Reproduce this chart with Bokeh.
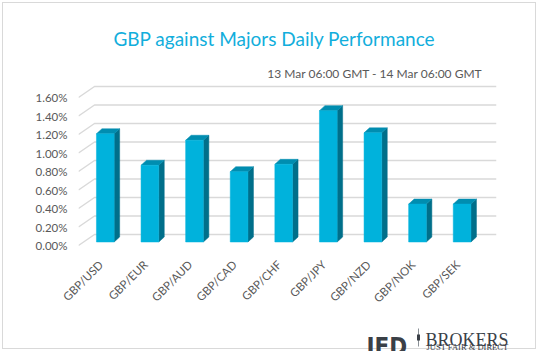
import math
from bokeh.plotting import figure
from bokeh.layouts import column
from bokeh.models import Range1d, FixedTicker, ColumnDataSource, InlineStyleSheet
from bokeh.core.properties import value
from bokeh.embed import file_html
from bokeh.resources import INLINE

# ---- data ----
categories = ["GBP/USD", "GBP/EUR", "GBP/AUD", "GBP/CAD", "GBP/CHF",
              "GBP/JPY", "GBP/NZD", "GBP/NOK", "GBP/SEK"]
values = [1.17, 0.83, 1.10, 0.76, 0.84, 1.42, 1.18, 0.41, 0.41]
y_ticks = [0.0, 0.2, 0.4, 0.6, 0.8, 1.0, 1.2, 1.4, 1.6]
y_tick_labels = ["0.00%", "0.20%", "0.40%", "0.60%", "0.80%",
                 "1.00%", "1.20%", "1.40%", "1.60%"]
title_text = "GBP against Majors Daily Performance"
subtitle_text = "13 Mar 06:00 GMT - 14 Mar 06:00 GMT"

# ---- geometry (pixels) ----
W = 538
H_HEAD = 80
FL, FW = 78, 418            # frame left / width
FH = 172                    # frame height (abs 80..252)
MB = 75                     # space under the frame for the x labels
H_MAIN = FH + MB
H_FOOT = 351 - H_HEAD - H_MAIN
FOOT_TOP = H_HEAD + H_MAIN
Z0 = 165                    # 0% row on the front plane, from frame top
XPX = 44.6                  # pixels per category
YPX = 92.5                  # pixels per 1%
DX, DY = 16 / XPX, 11 / YPX          # floor depth
FX, FY = 4.5 / XPX, 3.5 / YPX        # bar front-face inset
BX, BY = 5.5 / XPX, 5.0 / YPX        # bar depth
HW = 8.85 / XPX                       # half bar width
XMAX = FW / XPX
font = "Lato"


def blank_fig(h, y_top):
    f = figure(width=W, height=h, output_backend="svg", toolbar_location=None,
               x_range=Range1d(0, W), y_range=Range1d(y_top + h, y_top),
               x_axis_type=None, y_axis_type=None, min_border=0,
               frame_align=False, title=None)
    f.outline_line_color = None
    f.background_fill_color = None
    f.border_fill_color = None
    return f


# ---- header ----
head = blank_fig(H_HEAD, 0)
head.text(x=[274], y=[38], text=[title_text], text_align="center",
          text_baseline="middle", text_font=value(font), text_font_size="19px",
          text_color="#12AEDC")
head.text(x=[482], y=[73], text=[subtitle_text], text_align="right",
          text_baseline="middle", text_font=value(font), text_font_size="12px",
          text_color="#595959")

# ---- main chart ----
p = figure(frame_width=FW, frame_height=FH, output_backend="svg",
           toolbar_location=None, title=None,
           x_range=Range1d(0, XMAX),
           y_range=Range1d(-(FH - Z0) / YPX, Z0 / YPX),
           min_border_left=FL, min_border_right=W - FL - FW,
           min_border_top=0, min_border_bottom=MB,
           frame_align=False)
p.outline_line_color = None
p.xgrid.visible = False
p.ygrid.visible = False
p.background_fill_color = None
p.border_fill_color = None

gx, gy = [], []
for t in y_ticks:
    gx.append([0, DX, XMAX])
    gy.append([t, t + DY, t + DY])
p.multi_line(gx, gy, line_color="#D9D9D9", line_width=1.5)

centers = [i + 0.5 + FX for i in range(len(categories))]
y0 = FY
src = ColumnDataSource(dict(
    left=[c - HW for c in centers], right=[c + HW for c in centers],
    bottom=[y0] * len(values), top=[y0 + v for v in values]))

side_xs, side_ys, top_xs, top_ys = [], [], [], []
for c, v in zip(centers, values):
    side_xs.append([c + HW, c + HW + BX, c + HW + BX, c + HW])
    side_ys.append([y0, y0 + BY, y0 + v + BY, y0 + v])
    top_xs.append([c - HW, c - HW + BX, c + HW + BX, c + HW])
    top_ys.append([y0 + v, y0 + v + BY, y0 + v + BY, y0 + v])

p.patches(side_xs, side_ys, fill_color="#006F8A", line_color="#006F8A", line_width=0.5)
p.patches(top_xs, top_ys, fill_color="#008DB0", line_color="#008DB0", line_width=0.5)
p.quad(left="left", right="right", bottom="bottom", top="top", source=src,
       fill_color="#00B2DC", line_color="#00B2DC", line_width=0.5)

p.xaxis.ticker = FixedTicker(ticks=[i + 0.5 for i in range(len(categories))])
p.xaxis.major_label_overrides = {i + 0.5: c for i, c in enumerate(categories)}
p.xaxis.major_label_orientation = math.pi / 4
p.yaxis.ticker = FixedTicker(ticks=y_ticks)
p.yaxis.major_label_overrides = dict(zip(y_ticks, y_tick_labels))
for ax in (p.xaxis, p.yaxis):
    ax.axis_line_color = None
    ax.major_tick_line_color = None
    ax.minor_tick_line_color = None
    ax.major_tick_out = 0
    ax.major_tick_in = 0
    ax.major_label_text_font = font
    ax.major_label_text_color = "#595959"
p.xaxis.major_label_text_font_size = "11.5px"
p.yaxis.major_label_text_font_size = "11.5px"
p.xaxis.major_label_standoff = 10
p.yaxis.major_label_standoff = 11

# ---- footer with logo (positions relative to the footer's own top) ----
ft = FOOT_TOP
foot = blank_fig(H_FOOT, ft)
foot.text(x=[366], y=[ft + 19], text=["JFD"], text_align="left",
          text_baseline="alphabetic", text_font=value("DejaVu Sans Condensed"),
          text_font_style="bold", text_font_size="24px", text_color="#3A4047")
foot.segment(x0=[418], y0=[ft + 1], x1=[418], y1=[ft + 19],
             line_color="#8A9096", line_width=1)
foot.segment(x0=[418], y0=[ft + 7], x1=[418], y1=[ft + 13],
             line_color="#3A4047", line_width=3)
foot.text(x=[425], y=[ft + 12.5], text=["BROKERS"], text_align="left",
          text_baseline="alphabetic", text_font=value("Liberation Serif"),
          text_font_size="18px", text_color="#3A4047")
foot.text(x=[426], y=[ft + 19], text=["JUST FAIR & DIRECT"], text_align="left",
          text_baseline="alphabetic", text_font=value("Liberation Serif"),
          text_font_size="8.5px", text_color="#3A4047")

layout = column(head, p, foot, spacing=0)
layout.stylesheets = [InlineStyleSheet(css=(
    ":host { background: white !important; outline: 1px solid #D9D9D9; "
    "outline-offset: -3px; }"))]
open("out.html", "w").write(file_html(layout, INLINE))
